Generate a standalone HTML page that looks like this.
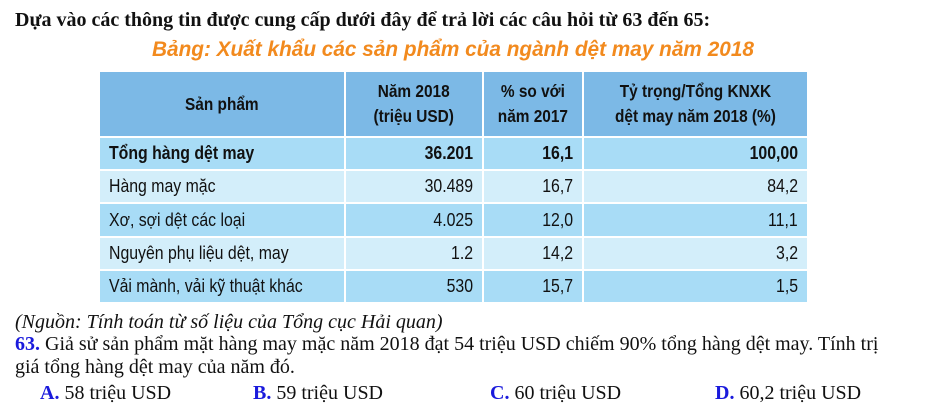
<!DOCTYPE html>
<html><head><meta charset="utf-8"><style>
body{margin:0;width:934px;height:407px;background:#fff;position:relative;overflow:hidden;font-family:"Liberation Serif",serif;}
.t{position:absolute;white-space:nowrap;}
.s{font-family:"Liberation Sans",sans-serif;}
.c{position:absolute;display:flex;align-items:center;font-family:"Liberation Sans",sans-serif;font-size:18px;color:#111;box-sizing:border-box;padding:0 9px;}
.c span{display:inline-block;transform:scaleX(0.88);white-space:nowrap;}
.r{justify-content:flex-end;} .r span{transform-origin:right;}
.l span{transform-origin:left;}
.h{justify-content:center;text-align:center;font-weight:bold;line-height:25px;font-size:17.5px;}
.b{font-weight:bold;}
.blue{color:#1a1adc;font-weight:bold;}
</style></head><body>
<div class="t" style="left:15px;top:9px;font-size:20px;font-weight:bold;color:#111;">Dựa vào các thông tin được cung cấp dưới đây để trả lời các câu hỏi từ 63 đến 65:</div>
<div class="t s" style="left:152px;top:38px;font-size:21px;font-weight:bold;font-style:italic;color:#f28a1e;transform:scaleX(0.99);transform-origin:left;">Bảng: Xuất khẩu các sản phẩm của ngành dệt may năm 2018</div>

<div style="position:absolute;left:100px;top:72px;width:707px;height:230px;background:#fff;"></div>
<div class="c h" style="left:100px;top:72px;width:244px;height:64px;background:#7cb9e6;"><span>Sản phẩm</span></div>
<div class="c h" style="left:346px;top:72px;width:136px;height:64px;background:#7cb9e6;"><span>Năm 2018<br>(triệu USD)</span></div>
<div class="c h" style="left:484px;top:72px;width:98px;height:64px;background:#7cb9e6;"><span>% so với<br>năm 2017</span></div>
<div class="c h" style="left:584px;top:72px;width:223px;height:64px;background:#7cb9e6;"><span>Tỷ trọng/Tổng KNXK<br>dệt may năm 2018 (%)</span></div>

<div class="c l b" style="left:100px;top:138px;width:244px;height:31px;background:#a8dcf6;"><span>Tổng hàng dệt may</span></div>
<div class="c r b" style="left:346px;top:138px;width:136px;height:31px;background:#a8dcf6;"><span>36.201</span></div>
<div class="c r b" style="left:484px;top:138px;width:98px;height:31px;background:#a8dcf6;"><span>16,1</span></div>
<div class="c r b" style="left:584px;top:138px;width:223px;height:31px;background:#a8dcf6;"><span>100,00</span></div>

<div class="c l" style="left:100px;top:171px;width:244px;height:31px;background:#d3eefa;"><span>Hàng may mặc</span></div>
<div class="c r" style="left:346px;top:171px;width:136px;height:31px;background:#d3eefa;"><span>30.489</span></div>
<div class="c r" style="left:484px;top:171px;width:98px;height:31px;background:#d3eefa;"><span>16,7</span></div>
<div class="c r" style="left:584px;top:171px;width:223px;height:31px;background:#d3eefa;"><span>84,2</span></div>

<div class="c l" style="left:100px;top:204px;width:244px;height:32px;background:#a8dcf6;"><span>Xơ, sợi dệt các loại</span></div>
<div class="c r" style="left:346px;top:204px;width:136px;height:32px;background:#a8dcf6;"><span>4.025</span></div>
<div class="c r" style="left:484px;top:204px;width:98px;height:32px;background:#a8dcf6;"><span>12,0</span></div>
<div class="c r" style="left:584px;top:204px;width:223px;height:32px;background:#a8dcf6;"><span>11,1</span></div>

<div class="c l" style="left:100px;top:238px;width:244px;height:31px;background:#d3eefa;"><span>Nguyên phụ liệu dệt, may</span></div>
<div class="c r" style="left:346px;top:238px;width:136px;height:31px;background:#d3eefa;"><span>1.2</span></div>
<div class="c r" style="left:484px;top:238px;width:98px;height:31px;background:#d3eefa;"><span>14,2</span></div>
<div class="c r" style="left:584px;top:238px;width:223px;height:31px;background:#d3eefa;"><span>3,2</span></div>

<div class="c l" style="left:100px;top:271px;width:244px;height:31px;background:#a8dcf6;"><span>Vải mành, vải kỹ thuật khác</span></div>
<div class="c r" style="left:346px;top:271px;width:136px;height:31px;background:#a8dcf6;"><span>530</span></div>
<div class="c r" style="left:484px;top:271px;width:98px;height:31px;background:#a8dcf6;"><span>15,7</span></div>
<div class="c r" style="left:584px;top:271px;width:223px;height:31px;background:#a8dcf6;"><span>1,5</span></div>

<div class="t" style="left:15px;top:311px;font-size:20px;font-style:italic;color:#111;">(Nguồn: Tính toán từ số liệu của Tổng cục Hải quan)</div>
<div class="t" style="left:15px;top:333px;font-size:20px;color:#111;"><span class="blue">63.</span> Giả sử sản phẩm mặt hàng may mặc năm 2018 đạt 54 triệu USD chiếm 90% tổng hàng dệt may. Tính trị</div>
<div class="t" style="left:15px;top:356px;font-size:20px;color:#111;">giá tổng hàng dệt may của năm đó.</div>
<div class="t" style="left:40px;top:382px;font-size:20px;color:#111;"><span class="blue">A.</span> 58 triệu USD</div>
<div class="t" style="left:253px;top:382px;font-size:20px;color:#111;"><span class="blue">B.</span> 59 triệu USD</div>
<div class="t" style="left:490px;top:382px;font-size:20px;color:#111;"><span class="blue">C.</span> 60 triệu USD</div>
<div class="t" style="left:715px;top:382px;font-size:20px;color:#111;"><span class="blue">D.</span> 60,2 triệu USD</div>
</body></html>
